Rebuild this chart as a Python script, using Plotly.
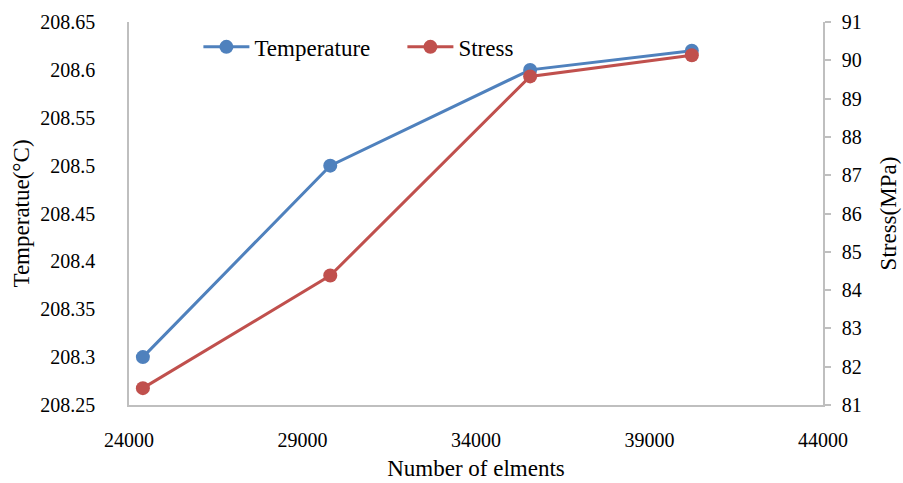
import plotly.graph_objects as go

elements = [24400, 29800, 35560, 40220]
temperature = [208.30, 208.50, 208.60, 208.62]
stress = [81.44, 84.38, 89.58, 90.13]

x_ticks = [24000, 29000, 34000, 39000, 44000]
temp_ticks = [208.25, 208.3, 208.35, 208.4, 208.45, 208.5, 208.55, 208.6, 208.65]
temp_tick_text = ["208.25", "208.3", "208.35", "208.4", "208.45", "208.5", "208.55", "208.6", "208.65"]
stress_ticks = [81, 82, 83, 84, 85, 86, 87, 88, 89, 90, 91]

BLUE = "#4F81BD"
RED = "#C0504D"
GRAY = "#BFBFBF"
FONT = "'Liberation Serif', 'Times New Roman', serif"
TITLEFONT = dict(family=FONT, size=23, color="black")

fig = go.Figure()
fig.add_trace(go.Scatter(
    x=elements, y=temperature, name="Temperature", mode="lines+markers",
    line=dict(color=BLUE, width=3), marker=dict(color=BLUE, size=14),
    yaxis="y"))
fig.add_trace(go.Scatter(
    x=elements, y=stress, name="Stress", mode="lines+markers",
    line=dict(color=RED, width=3), marker=dict(color=RED, size=14),
    yaxis="y2"))

fig.update_layout(
    width=903, height=483,
    margin=dict(l=129, r=80, t=22, b=78),
    paper_bgcolor="white", plot_bgcolor="white",
    font=dict(family=FONT, size=20, color="black"),
    showlegend=True,
    legend=dict(orientation="h", x=0.1, xanchor="left", y=0.935, yanchor="middle",
                bgcolor="rgba(0,0,0,0)", font=TITLEFONT,
                itemwidth=46, entrywidth=143),
    xaxis=dict(range=[24000, 44000], tickvals=x_ticks, ticktext=[str(v) for v in x_ticks],
               showline=True, linecolor=GRAY, linewidth=1.5, ticks="", showgrid=False,
               zeroline=False, ticklabelstandoff=16, automargin=False,
               title=dict(text="Number of elments", standoff=10, font=TITLEFONT)),
    yaxis=dict(range=[208.25, 208.65], tickvals=temp_ticks, ticktext=temp_tick_text,
               showline=True, linecolor=GRAY, linewidth=1.5, ticks="", showgrid=False,
               zeroline=False, ticklabelstandoff=28, automargin=False,
               title=dict(text="Temperatue(°C)", standoff=4, font=TITLEFONT)),
    yaxis2=dict(range=[81, 91], tickvals=stress_ticks, overlaying="y", side="right",
                showline=True, linecolor=GRAY, linewidth=1.5, ticks="outside",
                ticklen=6, tickcolor=GRAY, tickwidth=1.5, showgrid=False, zeroline=False,
                ticklabelstandoff=7, automargin=False,
                title=dict(text="Stress(MPa)", standoff=19, font=TITLEFONT)),
)

fig.write_html("out.html", config={"displayModeBar": False},
               post_script="document.body.style.margin='0';")
